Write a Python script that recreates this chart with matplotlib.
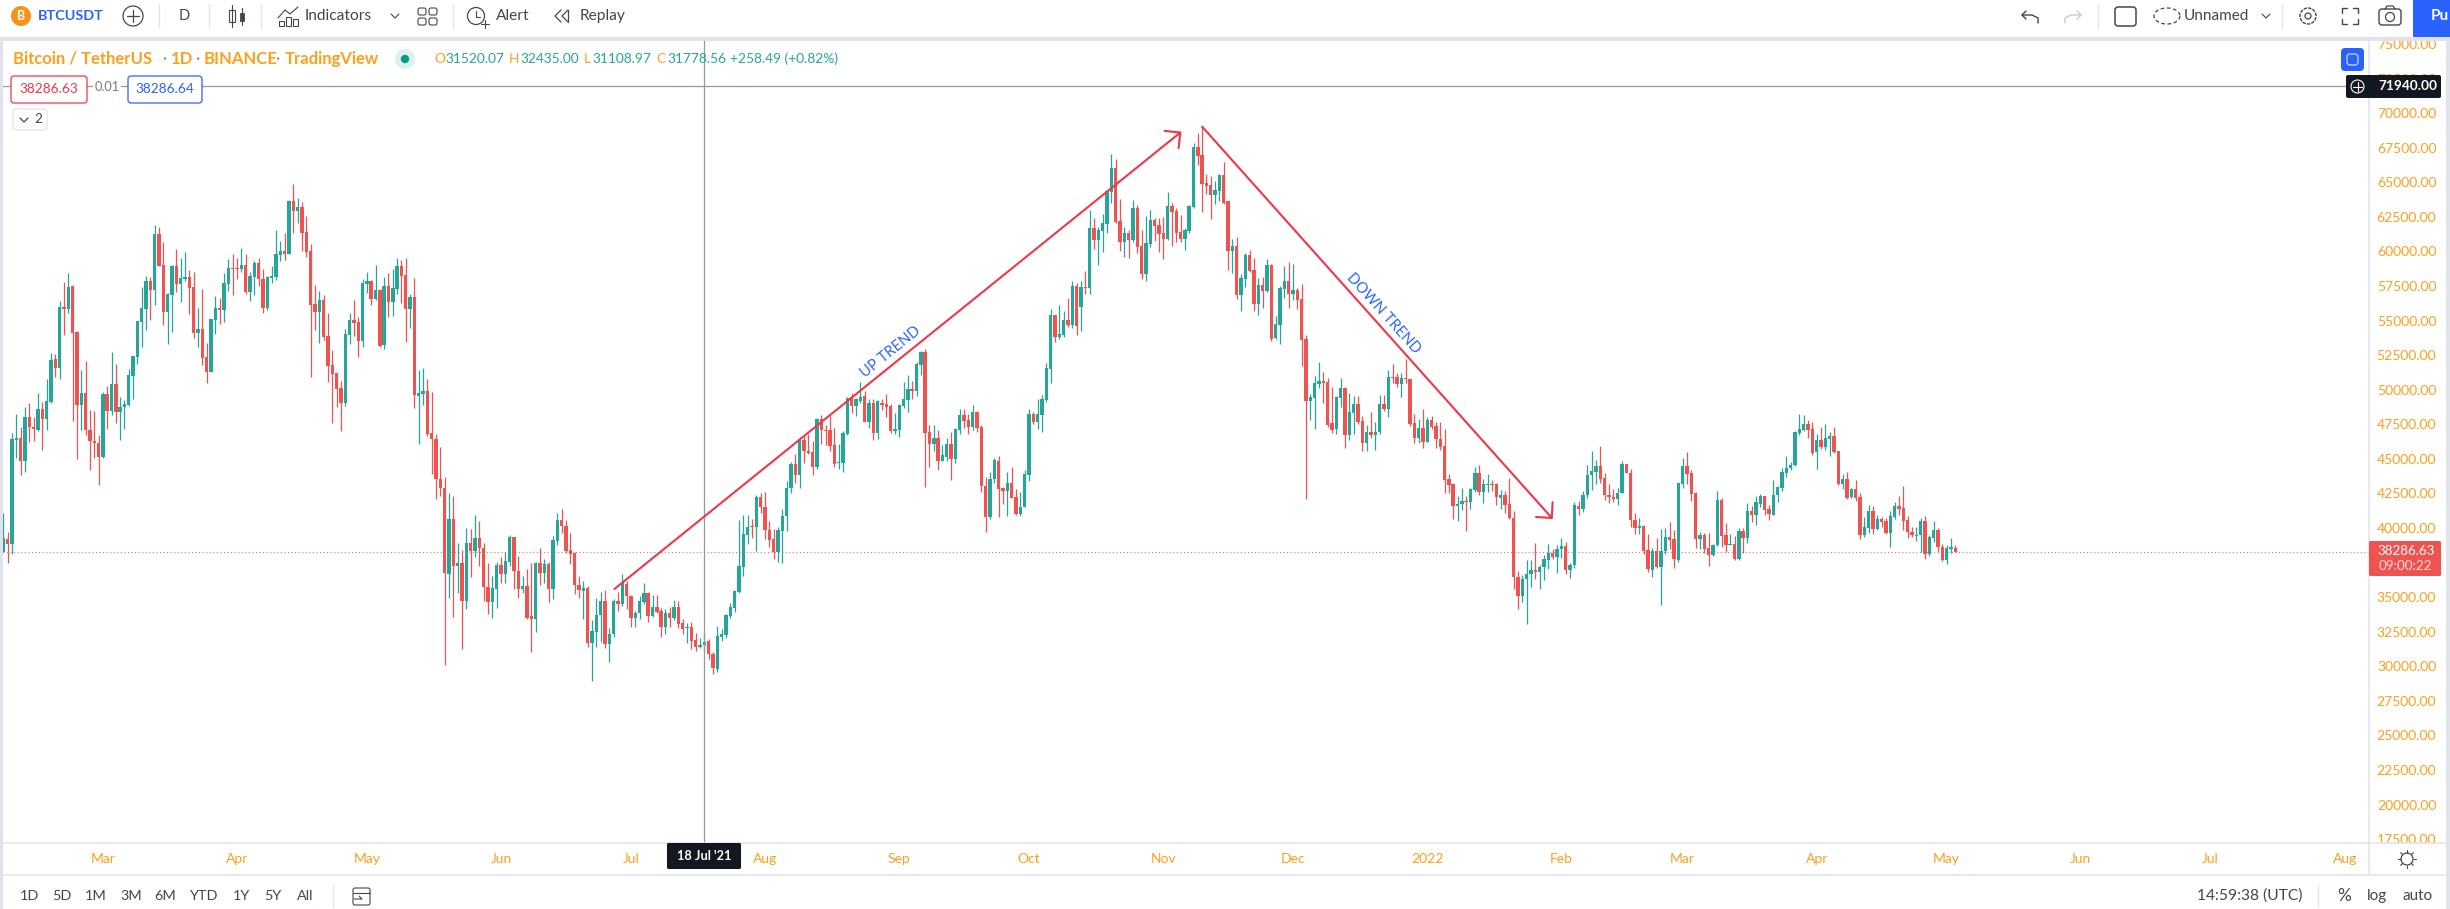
import numpy as np
import pandas as pd
import matplotlib
matplotlib.use('Agg')
import matplotlib.pyplot as plt
import matplotlib.dates as mdates
from matplotlib.patches import Rectangle, Circle, FancyBboxPatch

plt.rcParams['font.family'] = ['Lato', 'DejaVu Sans']

# daily candles in thousands of USDT, 6 Feb 2021 onwards
opens = [
    38.29,39.20,38.82,46.36,46.48,44.84,48.00,47.33,47.11,48.63,
    47.88,49.09,52.19,51.54,55.95,55.86,57.50,54.17,48.89,49.74,
    47.11,46.31,46.17,45.11,49.66,48.44,50.39,48.39,48.75,48.87,
    50.99,52.36,54.89,55.83,57.83,57.21,61.23,58.99,55.62,56.85,
    58.94,57.64,58.00,58.12,57.40,54.10,54.36,52.34,51.28,55.01,
    55.88,55.76,57.64,58.77,58.77,58.70,58.99,57.06,58.15,59.14,
    57.98,55.91,58.08,58.15,59.74,60.00,59.81,63.62,62.92,63.18,
    61.38,60.00,56.17,55.59,56.46,53.86,51.76,51.18,50.10,49.01,
    53.93,55.01,54.87,53.50,57.64,57.83,56.53,57.18,53.21,57.47,
    56.32,57.28,58.92,58.27,55.81,56.68,49.52,49.66,49.88,46.84,
    46.46,43.57,42.92,36.65,40.63,37.28,37.47,34.70,38.89,38.31,
    39.30,38.58,35.76,34.63,35.61,37.32,36.70,37.57,39.33,36.92,
    35.57,35.83,33.64,33.40,37.45,36.72,37.42,35.57,39.04,40.58,
    40.17,38.39,38.17,35.85,35.47,35.69,31.66,32.50,33.69,34.72,
    31.59,32.31,34.72,34.48,35.95,35.11,33.52,33.83,34.67,35.32,
    33.66,34.29,33.97,32.84,33.83,33.52,34.29,33.13,32.75,32.84,
    31.88,31.37,31.52,31.81,30.89,29.83,32.14,32.29,33.64,34.22,
    35.40,37.20,39.47,40.10,40.05,42.27,41.54,39.86,39.20,38.24,
    39.81,40.84,42.87,44.60,43.81,46.34,45.59,45.52,44.39,47.86,
    47.11,47.06,45.98,44.68,44.68,46.77,49.45,48.82,49.16,49.52,
    47.64,49.01,46.84,49.01,48.94,48.80,46.99,47.06,48.80,49.25,
    50.03,49.88,51.78,52.70,46.92,46.05,46.48,44.82,45.16,46.05,
    44.96,47.06,48.15,47.78,47.28,48.36,47.28,43.06,40.77,43.52,
    44.87,42.87,42.65,43.23,42.22,41.04,41.49,43.81,48.22,47.66,
    48.15,49.23,51.50,55.38,53.79,53.93,55.01,54.65,57.47,55.95,
    57.40,57.33,61.67,60.80,61.45,61.96,64.27,66.00,62.17,60.70,
    61.30,60.80,63.11,60.36,58.34,60.51,62.24,61.88,61.30,60.87,
    63.26,62.90,61.38,60.87,61.45,63.18,67.52,66.94,64.92,64.77,
    64.05,64.34,65.50,63.62,60.00,60.36,56.82,57.98,59.71,58.63,
    56.17,57.54,57.11,58.99,53.71,54.65,57.26,57.83,56.94,57.18,
    56.53,53.64,49.16,49.37,50.39,50.60,50.53,47.57,47.13,49.40,
    50.10,46.70,48.29,48.94,47.71,46.12,46.92,46.70,46.92,48.94,
    48.58,50.89,50.89,50.39,50.82,50.75,47.57,46.48,47.21,46.19,
    47.78,47.35,46.46,45.90,43.52,43.16,41.57,41.71,41.93,41.86,
    42.72,43.95,42.58,43.08,43.16,43.16,42.19,42.41,41.71,40.75,
    36.48,35.06,36.29,36.65,36.94,36.79,37.16,37.69,38.17,37.88,
    38.46,38.67,36.94,37.30,41.57,41.35,42.36,43.81,44.02,44.46,
    43.59,42.41,42.27,42.07,42.51,44.60,43.95,40.60,39.98,40.12,
    38.41,36.94,38.31,37.20,38.31,39.33,39.18,37.66,43.16,44.46,
    43.95,42.51,39.18,39.47,38.53,38.02,38.75,42.00,39.47,38.75,
    38.82,37.73,39.76,39.25,41.21,40.92,41.71,42.29,41.35,40.92,
    42.36,42.87,43.95,44.31,44.53,46.84,47.11,47.50,47.13,45.47,
    46.34,45.83,46.41,46.63,45.54,43.16,43.52,42.22,42.80,42.22,
    39.52,40.02,41.21,39.95,40.63,40.48,39.66,40.77,41.57,41.42,
    40.55,39.73,39.45,39.47,40.48,38.10,39.25,39.83,38.65,37.66,38.46,38.58,
]
highs = [
    41.06,39.73,46.84,48.22,47.33,48.72,49.01,48.00,49.74,49.09,
    50.75,52.63,52.58,56.41,57.79,58.44,57.54,54.22,51.40,52.05,
    48.51,48.44,46.70,49.81,50.24,52.70,51.83,49.50,49.23,51.47,
    52.41,54.94,57.40,58.20,58.12,61.91,61.74,60.65,56.97,58.99,
    60.15,59.50,59.93,58.63,58.48,55.88,57.26,53.35,55.09,56.75,
    56.60,58.41,59.42,59.79,59.50,60.22,59.79,58.48,59.28,59.50,
    58.70,58.20,58.92,61.52,60.73,61.30,63.69,64.87,63.83,63.55,
    62.53,60.51,57.54,57.11,56.82,55.52,52.85,51.18,50.60,54.36,
    55.52,56.46,55.23,57.98,58.48,57.91,58.99,57.26,58.12,58.41,
    58.70,59.50,59.35,59.50,56.89,58.05,51.40,51.54,50.75,49.81,
    46.77,45.83,43.66,42.51,42.29,38.89,38.39,39.98,39.90,40.92,
    40.48,38.94,37.45,36.55,37.57,37.93,38.29,39.52,39.37,38.00,
    36.53,37.01,37.45,37.52,38.58,37.73,37.52,39.45,41.11,41.40,
    40.58,39.61,38.24,36.55,36.14,35.78,33.35,34.96,35.40,35.52,
    32.75,34.84,35.40,36.67,36.14,35.13,34.00,35.06,36.05,35.35,
    35.13,35.13,34.19,34.12,34.26,34.77,34.70,33.40,33.11,33.18,
    32.38,32.02,32.44,31.97,31.06,32.91,32.67,33.76,34.55,35.49,
    40.58,40.94,40.94,40.65,42.39,42.51,42.63,40.48,39.90,40.05,
    41.37,43.42,44.75,45.35,46.56,46.65,46.80,46.27,47.93,48.19,
    47.42,48.10,47.21,46.05,47.01,49.45,49.78,49.37,50.53,49.88,
    49.30,49.30,49.23,49.30,49.66,48.94,48.29,48.94,50.53,51.04,
    50.60,51.98,52.82,52.97,47.42,47.42,47.06,46.03,46.48,46.92,
    47.21,48.58,48.58,48.22,48.87,48.44,47.42,43.71,44.07,45.04,
    45.23,42.99,44.02,44.39,42.84,42.63,44.22,48.58,48.36,49.30,
    49.59,51.91,55.81,55.38,56.10,55.66,56.60,57.83,57.69,57.83,
    58.56,62.97,62.39,61.74,62.68,64.41,67.04,66.65,63.76,61.74,
    61.52,63.69,63.33,61.52,62.53,62.97,62.39,62.39,62.46,64.27,
    63.47,63.11,62.61,61.67,63.33,67.81,68.53,69.02,65.57,65.43,
    65.06,65.57,66.44,63.62,60.87,61.02,58.34,59.86,60.07,59.50,
    58.05,58.12,59.42,59.06,55.30,57.47,58.92,59.21,59.06,57.33,
    57.62,53.93,49.66,50.97,51.98,51.25,50.82,50.17,49.52,50.82,
    50.17,49.74,49.52,49.52,48.07,47.42,48.36,47.64,49.59,49.59,
    51.40,51.83,51.18,51.18,52.19,50.75,48.22,47.86,48.58,48.00,
    48.07,47.64,47.64,47.13,43.88,43.23,42.29,42.87,42.29,42.87,
    44.39,44.53,43.52,43.88,43.45,43.23,42.72,42.65,43.59,41.21,
    36.87,36.58,37.66,37.66,38.94,37.30,38.02,38.82,38.46,38.75,
    39.30,38.96,37.45,41.86,41.93,42.65,44.53,45.54,44.89,45.90,
    43.95,43.16,42.80,42.92,44.82,44.60,44.24,41.06,40.70,40.19,
    39.54,38.53,39.30,39.90,39.98,40.41,39.83,43.23,45.04,45.47,
    44.17,42.58,39.69,39.61,39.61,38.82,42.65,42.14,40.34,39.54,
    39.40,39.98,39.98,41.78,41.57,42.29,42.43,42.29,41.64,43.45,
    43.01,44.31,45.18,44.75,46.99,48.22,48.15,47.78,47.64,46.77,
    47.28,47.50,46.92,47.28,45.54,43.93,44.02,42.87,43.45,42.51,
    40.77,41.64,41.57,40.92,40.77,40.70,41.21,41.86,42.29,43.01,
    40.84,40.05,40.05,40.70,40.84,39.52,40.48,39.98,38.87,38.75,39.25,38.75,
]
lows = [
    38.29,37.45,38.10,45.04,43.83,44.02,46.19,46.27,47.01,45.62,
    47.06,49.01,50.94,50.75,53.95,55.52,47.71,44.96,47.06,46.70,
    44.17,45.04,43.08,45.04,47.13,48.15,47.57,46.34,47.13,48.84,
    49.30,51.83,53.06,54.32,55.01,56.12,58.94,54.65,53.28,54.15,
    57.04,56.34,57.86,55.45,53.71,53.06,51.78,50.46,51.25,54.00,
    54.73,54.87,57.11,56.82,57.98,58.51,56.92,56.39,56.82,57.47,
    55.52,55.76,57.69,57.91,59.28,59.35,59.79,61.30,62.03,60.00,
    59.57,50.94,54.29,53.35,53.57,50.53,47.57,48.72,46.99,48.80,
    53.28,53.86,52.34,53.06,56.97,56.10,56.46,53.06,52.92,55.23,
    55.30,56.89,56.24,53.42,54.44,48.65,46.05,48.87,46.63,43.88,
    42.07,42.29,30.07,34.91,33.59,35.28,31.23,34.12,36.48,37.93,
    37.23,34.75,33.76,33.47,34.24,36.00,36.00,37.25,35.61,34.91,
    35.28,33.40,31.06,32.50,35.85,36.00,34.67,34.84,38.80,39.61,
    38.17,37.37,35.20,34.91,33.40,31.37,28.91,31.42,31.78,31.30,
    30.29,32.10,33.97,34.36,34.12,32.82,32.82,33.40,34.48,33.23,
    33.54,33.83,32.14,32.36,32.82,33.35,32.75,32.31,31.66,31.23,
    31.13,31.30,31.11,30.50,29.42,29.56,31.81,32.02,33.47,33.93,
    35.28,36.53,38.82,39.25,38.36,41.06,39.18,38.65,37.73,37.57,
    37.45,39.81,42.51,43.28,42.87,44.68,45.35,43.81,44.29,46.07,
    46.00,45.57,44.43,44.24,44.02,46.70,48.29,48.07,49.06,47.64,
    47.21,46.34,46.41,48.51,48.00,46.84,46.80,46.56,48.65,48.36,
    49.30,49.52,51.04,42.94,44.43,45.57,44.17,44.82,44.82,43.45,
    44.68,46.77,47.21,46.77,47.06,46.92,42.58,39.69,40.65,43.23,
    40.77,41.71,40.84,42.14,40.96,40.84,41.49,43.37,47.50,47.13,
    46.92,49.09,50.46,53.42,53.64,53.83,54.51,54.44,53.93,54.22,
    56.89,56.89,60.15,58.99,59.93,61.30,63.47,62.03,60.00,59.57,
    59.50,60.65,59.86,58.03,57.83,60.29,60.73,59.93,59.42,60.80,
    60.36,60.65,60.65,60.07,61.30,63.11,66.22,62.82,64.12,62.32,
    63.40,63.62,63.40,58.63,58.41,56.53,55.66,57.40,58.48,55.66,
    55.38,55.88,57.04,53.50,53.64,53.28,56.60,55.88,56.46,55.81,
    51.69,42.07,47.78,47.13,50.10,49.01,47.28,46.84,46.77,48.72,
    45.76,46.34,46.77,47.50,45.54,45.54,46.48,45.62,46.77,48.44,
    48.00,50.46,50.17,49.45,50.46,47.35,46.12,46.12,45.76,46.19,
    47.13,45.76,45.62,42.55,42.51,40.67,40.53,41.28,39.76,41.35,
    42.58,42.36,41.78,42.63,42.65,41.64,41.35,41.06,40.63,35.57,
    34.12,34.67,33.04,35.76,36.29,35.57,36.22,37.01,37.73,36.72,
    37.81,36.65,36.36,37.08,40.92,41.18,42.14,42.72,43.16,43.23,
    42.00,41.78,41.86,41.64,42.51,43.95,40.05,39.54,39.54,38.10,
    36.79,36.43,37.08,34.41,38.10,38.46,37.08,37.52,42.87,43.21,
    41.93,38.53,38.46,38.17,37.23,37.95,38.67,38.60,38.24,38.75,
    37.66,37.66,38.17,38.89,40.46,40.19,41.49,40.92,40.55,40.92,
    41.86,42.65,43.66,44.17,44.46,46.70,46.99,46.48,45.25,44.24,
    45.69,45.62,45.18,45.40,43.13,42.80,42.12,42.19,41.93,39.23,
    39.33,39.66,39.59,39.83,40.05,39.59,38.60,40.63,40.92,39.83,
    39.25,39.33,39.04,38.29,37.78,37.95,38.96,38.24,37.64,37.42,38.17,38.24,
]
closes = [
    39.25,38.82,46.41,46.48,44.84,48.00,47.30,47.16,48.63,47.88,
    49.16,52.17,51.57,55.95,55.86,57.42,54.10,48.89,49.74,47.09,
    46.27,46.12,45.11,49.66,48.44,50.39,48.39,48.77,48.94,51.04,
    52.41,54.94,55.88,57.83,57.21,61.23,58.97,55.62,56.92,58.94,
    57.64,58.05,58.12,57.35,54.10,54.36,52.29,51.28,55.09,55.88,
    55.76,57.69,58.77,58.73,58.73,58.99,57.04,58.20,59.14,58.00,
    55.91,58.12,58.20,59.79,60.00,59.81,63.62,62.92,63.18,61.30,
    59.95,56.10,55.59,56.46,53.79,51.69,51.13,50.03,49.01,54.00,
    55.01,54.82,53.50,57.69,57.83,56.53,57.18,53.13,57.47,56.32,
    57.33,58.92,58.22,55.81,56.68,49.59,49.74,49.88,46.77,46.41,
    43.52,42.87,36.72,40.63,37.23,37.47,34.70,38.89,38.31,39.30,
    38.53,35.71,34.63,35.69,37.35,36.70,37.64,39.33,36.87,35.57,
    35.83,33.52,33.40,37.45,36.72,37.42,35.57,39.11,40.58,40.12,
    38.34,38.10,35.85,35.49,35.69,31.66,32.53,33.71,34.75,31.59,
    32.36,34.75,34.48,36.00,35.06,33.52,33.88,34.75,35.32,33.66,
    34.29,33.90,32.84,33.83,33.52,34.31,33.06,32.67,32.84,31.83,
    31.37,31.52,31.78,30.87,29.85,32.19,32.34,33.71,34.26,35.47,
    37.25,39.54,40.10,40.05,42.27,41.49,39.83,39.13,38.29,39.83,
    40.89,42.92,44.60,43.81,46.41,45.54,45.45,44.39,47.86,47.06,
    47.01,45.90,44.60,44.75,46.84,49.37,48.82,49.30,49.50,47.64,
    49.01,46.84,49.16,48.87,48.72,46.99,47.13,48.87,49.30,50.03,
    49.88,51.83,52.70,46.84,46.07,46.48,44.82,45.25,46.05,44.96,
    47.13,48.15,47.71,47.28,48.36,47.21,43.01,40.77,43.57,44.89,
    42.80,42.68,43.23,42.14,41.04,41.54,43.88,48.22,47.64,48.22,
    49.30,51.54,55.38,53.79,54.00,55.01,54.65,57.47,54.58,57.40,
    57.33,61.67,60.80,61.52,62.03,64.34,66.00,62.10,60.65,61.30,
    60.80,63.11,60.29,58.34,60.58,62.24,61.81,61.23,60.87,63.26,
    62.82,61.33,60.87,61.52,63.26,67.52,66.87,64.85,64.70,64.05,
    64.41,65.50,63.47,60.00,60.36,56.82,58.05,59.71,58.56,56.17,
    57.54,57.11,58.99,53.64,54.73,57.33,57.83,56.89,57.18,56.46,
    53.57,49.16,49.45,50.46,50.60,50.46,47.42,47.06,49.45,50.10,
    46.70,48.36,48.94,47.64,46.12,46.92,46.70,46.96,48.94,48.58,
    50.89,50.82,50.39,50.82,50.75,47.50,46.48,47.21,46.19,47.78,
    47.28,46.41,45.83,43.45,43.08,41.57,41.76,41.93,41.86,42.80,
    43.95,42.58,43.16,43.16,43.08,42.22,42.41,41.64,40.70,36.43,
    35.06,36.29,36.65,36.94,36.79,37.16,37.73,38.17,37.88,38.48,
    38.67,36.94,37.35,41.64,41.35,42.36,43.86,44.10,44.46,43.52,
    42.36,42.22,42.07,42.55,44.60,43.95,40.55,39.98,40.12,38.36,
    37.01,38.31,37.20,38.31,39.33,39.11,37.73,43.23,44.46,43.88,
    42.43,39.18,39.47,38.46,38.02,38.75,42.00,39.40,38.75,38.82,
    37.73,39.76,39.25,41.21,40.92,41.86,42.29,41.28,40.99,42.41,
    42.94,44.02,44.36,44.53,46.92,47.16,47.50,47.06,45.45,46.34,
    45.83,46.48,46.63,45.47,43.16,43.52,42.19,42.80,42.14,39.52,
    40.10,41.21,39.95,40.63,40.41,39.61,40.84,41.57,41.35,40.48,
    39.69,39.47,39.52,40.48,38.10,39.33,39.83,38.60,37.66,38.53,38.60,38.29,
]

start_date = '2021-02-06'
price_ticks = list(range(75000, 17499, -2500))
month_ticks = ['2021-03-01', '2021-04-01', '2021-05-01', '2021-06-01', '2021-07-01', '2021-08-01',
               '2021-09-01', '2021-10-01', '2021-11-01', '2021-12-01', '2022-01-01', '2022-02-01',
               '2022-03-01', '2022-04-01', '2022-05-01', '2022-06-01', '2022-07-01', '2022-08-01']
month_labels = ['Mar', 'Apr', 'May', 'Jun', 'Jul', 'Aug', 'Sep', 'Oct', 'Nov', 'Dec', '2022',
                'Feb', 'Mar', 'Apr', 'May', 'Jun', 'Jul', 'Aug']
last_price = 38286.63
cross_date = '2021-07-18'
cross_price = 71940
up_dates, up_prices = ['2021-06-27 05:00', '2021-11-05 05:00'], [35590, 68660]
down_dates, down_prices = ['2021-11-10', '2022-01-30'], [69020, 40650]

GREEN = '#26a69a'
RED = '#ef5350'
ORANGE = '#ff9f1c'
BLUE = '#2962ff'
GRID = '#e0e3eb'
DARK = '#131722'
TXT = '#434651'

W, H = 2450, 909
fig = plt.figure(figsize=(W / 100, H / 100), dpi=100, facecolor='white')

# chart pane
ax = fig.add_axes([3 / W, (H - 843) / H, 2366 / W, 802 / H])
dates = mdates.date2num(pd.date_range(start_date, periods=len(opens)))
o, hi, lo, c = [np.array(v) * 1000 for v in (opens, highs, lows, closes)]
up = c >= o
colors = np.where(up, GREEN, RED)

ax.vlines(dates, lo, hi, colors=colors, lw=0.9, zorder=3)
ax.bar(dates, np.maximum(np.abs(c - o), 70), bottom=np.minimum(o, c), width=0.78,
       color=colors, linewidth=0, zorder=4)

px_day = 4.328
ax.set_xlim(dates[0] - 0.3 / px_day, dates[0] + (2369 - 3.3) / px_day)
ax.set_ylim(17223, 75213)
for s in ax.spines.values():
    s.set_visible(False)
ax.set_xticks(mdates.date2num(pd.to_datetime(month_ticks)))
ax.set_xticklabels(month_labels)
ax.set_yticks(price_ticks)
ax.set_yticklabels(['%.2f' % p for p in price_ticks])
ax.yaxis.tick_right()
ax.tick_params(axis='x', length=0, pad=7, labelsize=10, labelcolor=ORANGE)
ax.tick_params(axis='y', length=0, pad=27, labelsize=10, labelcolor=ORANGE)
for t in ax.get_yticklabels():
    t.set_ha('center')

# last price and crosshair lines
ax.axhline(last_price, color=RED, lw=0.8, ls=(0, (1, 2.2)), alpha=0.85, zorder=2)
ax.axhline(cross_price, color='#9598a1', lw=0.9, zorder=5)
ax.axvline(mdates.date2num(pd.Timestamp(cross_date)), color='#9598a1', lw=0.9, zorder=5)

# trend drawings
def trend(d, p):
    xs = mdates.date2num(pd.to_datetime(d))
    ax.annotate('', xy=(xs[1], p[1]), xytext=(xs[0], p[0]), zorder=6,
                arrowprops=dict(arrowstyle='->,head_length=0.8,head_width=0.8', color='#f23645',
                                lw=1.5, shrinkA=0, shrinkB=0, mutation_scale=10))

trend(up_dates, up_prices)
trend(down_dates, down_prices)
ax.text(mdates.date2num(pd.Timestamp('2021-08-30')), 52700, 'UP TREND', color=BLUE, fontsize=10.6,
        rotation=39, ha='center', va='center', zorder=6)
ax.text(mdates.date2num(pd.Timestamp('2021-12-21 20:00')), 55500, 'DOWN TREND', color=BLUE, fontsize=10.6,
        rotation=-48, ha='center', va='center', zorder=6)

# interface around the chart, in pixels
ui = fig.add_axes([0, 0, 1, 1], facecolor='none', zorder=5)
ui.set_xlim(0, W)
ui.set_ylim(H, 0)
ui.axis('off')


def box(x0, y0, x1, y1, fc='white', ec='none', lw=0, round=0, z=1):
    if round:
        p = FancyBboxPatch((x0 + round, y0 + round), x1 - x0 - 2 * round, y1 - y0 - 2 * round,
                           boxstyle='round,pad=%g,rounding_size=%g' % (round, round), fc=fc, ec=ec, lw=lw, zorder=z)
    else:
        p = Rectangle((x0, y0), x1 - x0, y1 - y0, fc=fc, ec=ec, lw=lw, zorder=z)
    ui.add_patch(p)


def txt(x, y, s, color=TXT, size=10.4, ha='center', weight='normal', z=5):
    return ui.text(x, y, s, color=color, fontsize=size, ha=ha, va='center', fontweight=weight, zorder=z)


def line(xs, ys, color=TXT, lw=1.0, z=4, **kw):
    ui.plot(xs, ys, color=color, lw=lw, zorder=z, solid_capstyle='round', **kw)


# frame
box(0, 0, W, 37)
box(0, 37, W, 41, fc=GRID)
box(0, 41, 3, H, fc=GRID)
box(2446, 41, W, H, fc=GRID)
box(2369, 843, 2446, 875)
line([2369, 2369], [41, 875], color=GRID, lw=1.1)
line([3, 2446], [843, 843], color=GRID, lw=1.1)
line([3, 2446], [875, 875], color=GRID, lw=1.1)

# top toolbar
for sx in [159, 209, 261, 453, 2098, 2282]:
    line([sx, sx], [4, 28], color=GRID, lw=0.9)
ui.add_patch(Circle((21, 16), 10, fc='#f7931a', ec='none', zorder=4))
txt(21, 16, 'B', color='white', size=9, weight='bold')
txt(38, 16, 'BTCUSDT', color=BLUE, size=10.4, ha='left', weight='bold')
ui.add_patch(Circle((133, 16), 10, fc='none', ec=TXT, lw=0.9, zorder=4))
line([127, 139], [16, 16], lw=0.9)
line([133, 133], [10, 22], lw=0.9)
txt(184, 16, 'D', size=10.6)
line([232, 232], [5, 27], lw=0.8)
box(229, 10, 235, 22, fc='none', ec=TXT, lw=0.8, z=4)
line([242, 242], [8, 25], lw=0.8)
box(240, 13, 244, 21, fc=TXT, ec=TXT, lw=0.6, z=4)
line([278, 285, 290, 298], [18, 10, 14, 7], lw=0.8)
for bx, bt in [(279, 21), (286, 17), (293, 19)]:
    box(bx, bt, bx + 5, 26, fc='none', ec=TXT, lw=0.8, z=4)
txt(305, 16, 'Indicators', ha='left', size=11.2)
line([391, 395, 399], [14, 18, 14], lw=0.8)
for gx, gy in [(418, 8), (429, 8), (418, 18), (429, 18)]:
    box(gx, gy, gx + 8, gy + 7, fc='none', ec=TXT, lw=0.8, round=2, z=4)
ui.add_patch(Circle((476, 16), 8.5, fc='none', ec=TXT, lw=0.9, zorder=4))
line([476, 476, 480], [11, 17, 17], lw=0.8)
line([481, 489], [24, 24], lw=0.8)
line([485, 485], [20, 28], lw=0.8)
txt(496, 16, 'Alert', ha='left', size=11.2)
line([561, 555, 561], [10, 16, 22], lw=0.9)
line([568, 562, 568], [10, 16, 22], lw=0.9)
line([568, 568], [10, 22], lw=0.9)
txt(580, 16, 'Replay', ha='left', size=11.2)
# right side of the toolbar
line([2026, 2022, 2026], [11, 15, 19], lw=1.0)
line([2022, 2032, 2038, 2038], [15, 15, 18, 23], lw=1.0)
line([2077, 2081, 2077], [11, 15, 19], lw=1.0, color='#c8cad1')
line([2081, 2071, 2065, 2065], [15, 15, 18, 23], lw=1.0, color='#c8cad1')
box(2115, 7, 2136, 26, fc='none', ec=TXT, lw=1.1, round=3, z=4)
cloud_t = np.linspace(0, 2 * np.pi, 60)
ui.plot(2167 + 13 * np.cos(cloud_t), 16 + 8 * np.sin(cloud_t), color=TXT, lw=0.9, ls=(0, (3, 2)), zorder=4)
txt(2184, 16, 'Unnamed', ha='left', size=11)
line([2262, 2266, 2270], [14, 18, 14], lw=0.8)
ui.add_patch(Circle((2308, 16), 8, fc='none', ec=TXT, lw=1.0, ls=(0, (2.5, 0.8)), zorder=4))
ui.add_patch(Circle((2308, 16), 3, fc='none', ec=TXT, lw=0.9, zorder=4))
for cx, cy, dx, dy in [(2342, 8, 1, 1), (2358, 8, -1, 1), (2342, 24, 1, -1), (2358, 24, -1, -1)]:
    line([cx + 5 * dx, cx, cx], [cy, cy, cy + 5 * dy], lw=1.0)
box(2379, 9, 2401, 25, fc='none', ec=TXT, lw=1.0, round=3, z=4)
ui.add_patch(Circle((2390, 17), 4.5, fc='none', ec=TXT, lw=0.9, zorder=4))
line([2385, 2387, 2393, 2395], [9, 6, 6, 9], lw=0.9)
box(2413, 0, W, 37, fc=BLUE)
txt(2431, 16, 'Pu', color='white', ha='left', size=11, weight='bold')

# legend row
txt(13, 59, 'Bitcoin / TetherUS', color=ORANGE, ha='left', size=12, weight='bold')
txt(164, 59, '·', color='#9598a1', size=12)
txt(171, 59, '1D', color=ORANGE, ha='left', size=12, weight='bold')
txt(197, 59, '·', color='#9598a1', size=12)
txt(204, 59, 'BINANCE', color=ORANGE, ha='left', size=12, weight='bold')
txt(277, 59, '·', color='#9598a1', size=12)
txt(285, 59, 'TradingView', color=ORANGE, ha='left', size=12, weight='bold')
ui.add_patch(Circle((405, 59), 10, fc='#ddf1ef', ec='none', zorder=4))
ui.add_patch(Circle((405, 59), 4.2, fc='#089981', ec='none', zorder=4))
for lx, letter, val in [(434, 'O', '31520.07'), (509, 'H', '32435.00'), (584, 'L', '31108.97'), (656, 'C', '31778.56')]:
    t = txt(lx, 59, letter, color=ORANGE, ha='left', size=9.9)
    txt(lx + (11 if letter != 'L' else 8), 59, val, color=GREEN, ha='left', size=9.9)
txt(730, 59, '+258.49 (+0.82%)', color=GREEN, ha='left', size=9.9)

box(11, 76, 87, 103, fc='white', ec='#f23645', lw=0.9, round=3, z=6)
txt(49, 89, '38286.63', color='#f23645', size=9.8, z=7)
box(93, 78, 121, 96, fc='white', z=6)
txt(107, 87, '0.01', color='#787b86', size=9.2, z=7)
box(128, 76, 202, 103, fc='white', ec=BLUE, lw=0.9, round=3, z=6)
txt(165, 89, '38286.64', color=BLUE, size=9.8, z=7)
box(13, 109, 47, 130, fc='white', ec=GRID, lw=0.9, round=3, z=6)
line([20, 24, 28], [118, 122, 118], lw=0.9, z=7)
txt(38, 119, '2', size=9.8, z=7)

# chips on the right of the pane
box(2341, 48, 2364, 71, fc=BLUE, round=4, z=6)
box(2347, 54, 2358, 65, fc='none', ec='#c9d8ff', lw=0.9, round=3, z=7)
box(2346, 75, 2441, 98, fc=DARK, round=2, z=6)
ui.add_patch(Circle((2357.5, 86.5), 6.5, fc='none', ec='white', lw=0.8, zorder=7))
line([2353, 2362], [86.5, 86.5], color='white', lw=0.8, z=7)
line([2357.5, 2357.5], [82, 91], color='white', lw=0.8, z=7)
txt(2408, 86.5, '71940.00', color='white', size=9.8, weight='bold', z=7)
box(2369, 541, 2441, 576, fc=RED, round=1.5, z=6)
txt(2406, 551, '38286.63', color='white', size=9.6, z=7)
txt(2405, 566, '09:00:22', color='#fbdcdb', size=9.6, z=7)

# crosshair date label
box(667, 843, 741, 869, fc=DARK, round=1.5, z=6)
txt(704, 856.5, "18 Jul '21", color='white', size=9.2, weight='bold', z=7)

# time axis corner and bottom bar
ui.add_patch(Circle((2407, 859), 6, fc='none', ec=TXT, lw=0.9, zorder=4))
for a in np.arange(0, 2 * np.pi, np.pi / 4):
    line([2407 + 6.5 * np.cos(a), 2407 + 9 * np.cos(a)], [859 + 6.5 * np.sin(a), 859 + 9 * np.sin(a)], lw=0.8)
for bx, s in zip([30, 62, 96, 131, 165, 203, 241, 273, 305], ['1D', '5D', '1M', '3M', '6M', 'YTD', '1Y', '5Y', 'All']):
    txt(bx, 896, s, size=10.4)
line([333, 333], [885, 907], color=GRID, lw=0.9)
box(353, 888, 370, 905, fc='none', ec=TXT, lw=0.8, round=2, z=4)
line([353, 370], [893, 893], lw=0.8)
line([354, 362, 359], [899, 899, 896], lw=0.8)
txt(2197, 896, '14:59:38 (UTC)', ha='left', size=11.2)
line([2318, 2318], [885, 907], color=GRID, lw=0.9)
txt(2344, 896, '%', size=12.5)
txt(2377, 896, 'log', size=11)
txt(2418, 896, 'auto', size=11)

fig.savefig('out.png', dpi=100)
